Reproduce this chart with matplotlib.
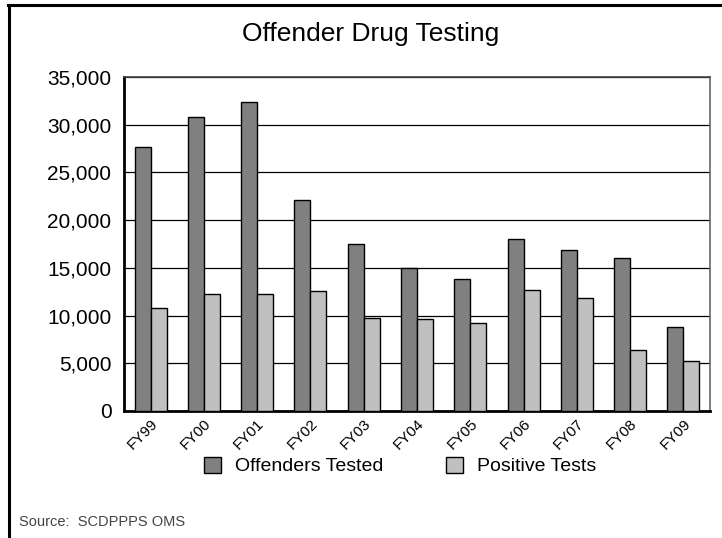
import numpy as np
from matplotlib import pyplot as plt
from matplotlib.lines import Line2D
from matplotlib.patches import Patch

plt.rcParams['font.family'] = ['Liberation Sans', 'DejaVu Sans']

# data
years = ['FY99', 'FY00', 'FY01', 'FY02', 'FY03', 'FY04',
         'FY05', 'FY06', 'FY07', 'FY08', 'FY09']
offenders_tested = [27700, 30800, 32400, 22100, 17500, 15000,
                    13800, 18000, 16900, 16000, 8800]
positive_tests = [10800, 12300, 12300, 12600, 9700, 9600,
                  9200, 12700, 11800, 6400, 5200]
y_ticks = [0, 5000, 10000, 15000, 20000, 25000, 30000, 35000]

fig = plt.figure(figsize=(7.22, 5.38), dpi=100)
ax = fig.add_axes([0.1717, 0.2361, 0.8117, 0.6208])

x = np.arange(len(years))
w = 0.3
ax.bar(x - w/2, offenders_tested, w, color='#808080', edgecolor='black',
       linewidth=1, zorder=3)
ax.bar(x + w/2, positive_tests, w, color='#c0c0c0', edgecolor='black',
       linewidth=1, zorder=3)

ax.set_xlim(-0.5, len(years) - 0.5)
ax.set_ylim(0, 35000)
ax.set_yticks(y_ticks)
ax.set_yticklabels(['{:,}'.format(v) for v in y_ticks])
ax.yaxis.grid(True, color='black', linewidth=0.9, zorder=0)
ax.tick_params(axis='y', length=0, pad=9, labelsize=15)
ax.set_xticks(x)
ax.set_xticklabels(years, rotation=45, ha='right', rotation_mode='anchor',
                   fontsize=11)
ax.tick_params(axis='x', length=0, pad=4)

ax.spines['left'].set_linewidth(2)
ax.spines['bottom'].set_linewidth(2)
ax.spines['top'].set_color('#444444')
ax.spines['right'].set_color('#666666')
ax.spines['top'].set_linewidth(1.2)
ax.spines['right'].set_linewidth(1.2)

fig.text(0.514, 0.937, 'Offender Drug Testing', ha='center', va='center',
         fontsize=19)

handles = [Patch(facecolor='#808080', edgecolor='black', label='Offenders Tested'),
           Patch(facecolor='#c0c0c0', edgecolor='black', label='Positive Tests')]
fig.legend(handles=handles, loc='center', bbox_to_anchor=(0.554, 0.134),
           ncol=2, frameon=False, fontsize=14, handlelength=0.9,
           handleheight=0.9, handletextpad=0.7, columnspacing=3.2)

fig.text(0.027, 0.03, 'Source:  SCDPPPS OMS', ha='left', va='center',
         fontsize=10.5, color='#444444')

# outer frame (only top and left edges show)
fig.add_artist(Line2D([0.011, 1.0], [0.990, 0.990], color='black',
                      linewidth=2.2, transform=fig.transFigure))
fig.add_artist(Line2D([0.0125, 0.0125], [0.0, 0.990], color='black',
                      linewidth=2.2, transform=fig.transFigure))

fig.savefig('out.png', dpi=100)
